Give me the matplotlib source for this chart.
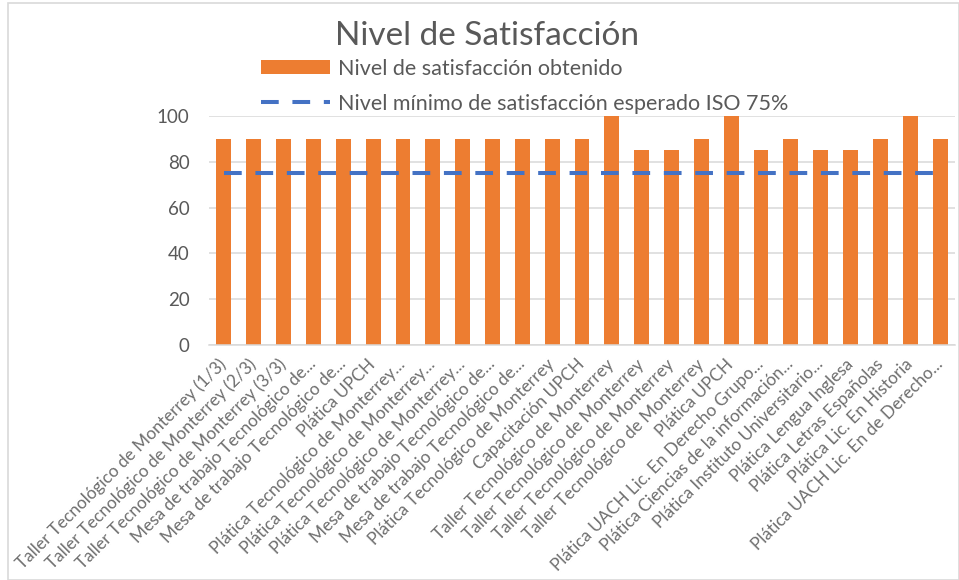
import matplotlib
matplotlib.use("Agg")
import matplotlib.pyplot as plt
from matplotlib.patches import Rectangle

categories = [
    "Taller Tecnológico de Monterrey (1/3)",
    "Taller Tecnológico de Monterrey (2/3)",
    "Taller Tecnológico de Monterrey (3/3)",
    "Mesa de trabajo Tecnológico de...",
    "Mesa de trabajo Tecnológico de...",
    "Plática UPCH",
    "Plática Tecnológico de Monterrey...",
    "Plática Tecnológico de Monterrey...",
    "Plática Tecnológico de Monterrey...",
    "Mesa de trabajo Tecnológico de...",
    "Mesa de trabajo Tecnológico de...",
    "Plática Tecnológico de Monterrey",
    "Capacitación UPCH",
    "Taller Tecnológico de Monterrey",
    "Taller Tecnológico de Monterrey",
    "Taller Tecnológico de Monterrey",
    "Taller Tecnológico de Monterrey",
    "Plática UPCH",
    "Plática UACH Lic. En Derecho Grupo...",
    "Plática Ciencias de la información...",
    "Plática Instituto Universitario...",
    "Plática Lengua Inglesa",
    "Plática Letras Españolas",
    "Plática Lic. En Historia",
    "Plática UACH Lic. En de Derecho...",
]
obtained = [90, 90, 90, 90, 90, 90, 90, 90, 90, 90, 90, 90, 90,
            100, 85, 85, 90, 100, 85, 90, 85, 85, 90, 100, 90]
minimum = [75] * len(categories)
yticks = [0, 20, 40, 60, 80, 100]

FONT = ["Lato", "DejaVu Sans"]
GRAY = "#595959"
plt.rcParams['font.family'] = FONT

fig = plt.figure(figsize=(9.59, 5.80), dpi=100)
ax = fig.add_axes([209 / 959, 1 - 345 / 580, (955 - 209) / 959, (345 - 116) / 580])

x = list(range(len(categories)))
bars = ax.bar(x, obtained, width=0.5, color="#ED7D31", zorder=2,
              label="Nivel de satisfacción obtenido")
line, = ax.plot(x, minimum, color="#4472C4", lw=2.9, dashes=(4.4, 3.4),
                solid_capstyle="butt", dash_capstyle="butt", zorder=3,
                label="Nivel mínimo de satisfacción esperado ISO 75%")

ax.set_xlim(-0.5, len(categories) - 0.5)
ax.set_ylim(0, 100)
ax.set_yticks(yticks)
ax.set_yticklabels([str(v) for v in yticks], fontsize=13.5, color=GRAY)
ax.yaxis.grid(True, color="#D9D9D9", lw=1.1, zorder=0)
ax.set_axisbelow(True)
for s in ["top", "right", "left"]:
    ax.spines[s].set_visible(False)
ax.spines["bottom"].set_color("#D9D9D9")
ax.spines["bottom"].set_linewidth(1.1)
ax.tick_params(axis="y", length=0, pad=14)
ax.tick_params(axis="x", length=0, pad=12)
ax.set_xticks(x)
ax.set_xticklabels(categories, rotation=45, ha="right", va="center",
                   rotation_mode="anchor", fontsize=12.4, color="#6E6E6E")

fig.text(487 / 959, 1 - 36 / 580, "Nivel de Satisfacción", ha="center", va="center",
         fontsize=24, color=GRAY)

leg = fig.legend(handles=[bars, line], loc="upper left",
                 bbox_to_anchor=(252 / 959, 1 - 50 / 580), frameon=False,
                 fontsize=15.5, labelcolor=GRAY, handlelength=3.2, handleheight=0.6,
                 handletextpad=0.38, labelspacing=0.7, borderaxespad=0)

fig.patches.append(Rectangle((8 / 959, 0), 1 - 8 / 959 - 0.5 / 959, 1 - 3 / 580,
                             transform=fig.transFigure, fill=False,
                             edgecolor="#D9D9D9", lw=1.2))

fig.savefig("out.png", dpi=100)
